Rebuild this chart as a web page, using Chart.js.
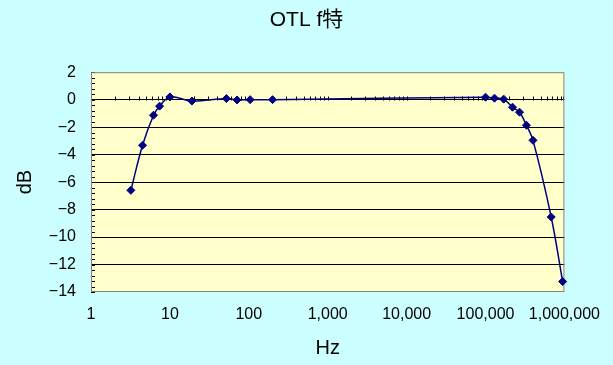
<!DOCTYPE html>
<html>
<head>
<meta charset="utf-8">
<script src="https://cdn.jsdelivr.net/npm/chart.js@4"></script>
<style>
  html, body { margin: 0; padding: 0; background: #ccffff; }
  canvas { display: block; }
</style>
</head>
<body>
<canvas id="fChart" width="613" height="365"></canvas>
<script>
const freqHz = [3.2, 4.5, 6.2, 7.4, 10, 19, 52, 71, 104, 200,
                100000, 130000, 170000, 220000, 270000, 330000, 400000, 680000, 950000];
const gainDb = [-6.6, -3.32, -1.13, -0.47, 0.2, -0.1, 0.08, -0.02, 0, 0,
                0.18, 0.11, 0.04, -0.55, -0.91, -1.86, -2.96, -8.54, -13.24];

// axis ticks
const xTickValues = [1, 10, 100, 1000, 10000, 100000, 1000000];
const xTickLabels = ['1', '10', '100', '1,000', '10,000', '100,000', '1,000,000'];

const FONT = "'Liberation Sans', Arial, 'Noto Sans CJK JP', sans-serif";
const NAVY = '#000080';

// ==================================================================
//   Plugin: yellow plot area, grey frame, small "inside" tick marks
// ==================================================================
const excelLookPlugin = {
    id: 'excelLook',
    beforeDraw: (chart) => {
        const {ctx, chartArea: a} = chart;
        ctx.save();
        ctx.fillStyle = '#ffffcc';
        ctx.fillRect(a.left, a.top, a.right - a.left, a.bottom - a.top);
        ctx.restore();
    },
    beforeDatasetsDraw: (chart) => {
        const {ctx, chartArea: a} = chart;
        const xs = chart.scales.x;
        const ys = chart.scales.y;
        ctx.save();
        ctx.strokeStyle = '#000000';
        ctx.lineWidth = 1;
        ctx.beginPath();
        // minor ticks on the value axis (every 0.4 dB)
        for (let i = 0; i <= 40; i++) {
            const py = Math.round(ys.getPixelForValue(-14 + i * 0.4)) + 0.5;
            ctx.moveTo(a.left, py);
            ctx.lineTo(a.left + 4, py);
        }
        // minor ticks on the 0 dB line (1..9 per decade)
        const y0 = Math.round(ys.getPixelForValue(0)) + 0.5;
        for (let n = 0; n < 6; n++) {
            for (let k = 1; k <= 9; k++) {
                const px = Math.round(xs.getPixelForValue(k * Math.pow(10, n))) + 0.5;
                ctx.moveTo(px, y0);
                ctx.lineTo(px, y0 - 4);
            }
        }
        const pEnd = Math.round(xs.getPixelForValue(1000000)) - 0.5;
        ctx.moveTo(pEnd, y0);
        ctx.lineTo(pEnd, y0 - 4);
        ctx.stroke();

        // grey frame round the plot area
        ctx.strokeStyle = '#808080';
        ctx.strokeRect(a.left + 0.5, a.top + 0.5, a.right - a.left - 1, a.bottom - a.top - 1);
        ctx.restore();
    }
};

const ctx = document.getElementById('fChart').getContext('2d');
const fChart = new Chart(ctx, {
    type: 'line',
    data: {
        datasets: [{
            label: 'OTL',
            data: freqHz.map((f, i) => ({x: f, y: gainDb[i]})),
            borderColor: NAVY,
            backgroundColor: NAVY,
            borderWidth: 1.5,
            tension: 0.35,
            fill: false,
            pointStyle: 'rectRot',
            pointRadius: 4,
            pointBorderWidth: 1,
            pointBackgroundColor: NAVY,
            pointBorderColor: NAVY,
            clip: false
        }]
    },
    options: {
        responsive: false,
        animation: false,
        layout: { padding: 0 },
        plugins: {
            legend: { display: false },
            tooltip: { enabled: false },
            title: {
                display: true,
                text: 'OTL f特',
                color: '#000',
                font: { family: FONT, size: 21, weight: 'normal' },
                padding: { top: 8, bottom: 39 }
            }
        },
        scales: {
            x: {
                type: 'logarithmic',
                min: 1,
                max: 1000000,
                afterBuildTicks: (s) => { s.ticks = xTickValues.map(v => ({value: v})); },
                afterFit: (s) => { s.height = 73; },
                grid: { display: false, drawTicks: false },
                border: { display: false },
                ticks: {
                    autoSkip: false,
                    maxRotation: 0,
                    padding: 13,
                    color: '#000',
                    font: { family: FONT, size: 16 },
                    callback: (v, i) => xTickLabels[i]
                },
                title: {
                    display: true,
                    text: 'Hz',
                    color: '#000',
                    font: { family: FONT, size: 20 },
                    padding: { top: 0, bottom: 5 }
                }
            },
            y: {
                min: -14,
                max: 2,
                afterFit: (s) => { s.width = 91; },
                grid: {
                    drawTicks: false,
                    lineWidth: 1,
                    color: (c) => (c.tick && (c.tick.value === 2 || c.tick.value === -14)) ? 'rgba(0,0,0,0)' : '#000000'
                },
                border: { display: false },
                ticks: {
                    stepSize: 2,
                    padding: 15,
                    color: '#000',
                    font: { family: FONT, size: 16 },
                    callback: (v) => String(v).replace('-', '\u2212')
                },
                title: {
                    display: true,
                    text: 'dB',
                    color: '#000',
                    font: { family: FONT, size: 20 },
                    padding: { top: 13, bottom: 0 }
                }
            },
            // empty right-hand box, keeps the plot 42px off the right edge
            y2: {
                position: 'right',
                afterFit: (s) => { s.width = 42; },
                grid: { display: false },
                border: { display: false },
                ticks: { display: false }
            }
        }
    },
    plugins: [excelLookPlugin]
});
</script>
</body>
</html>
